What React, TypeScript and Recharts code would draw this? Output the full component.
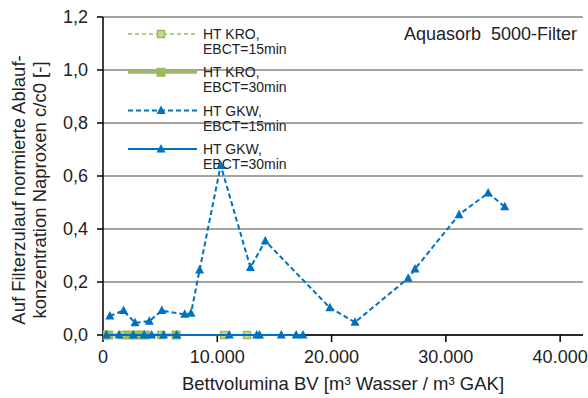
import React from 'react';
import {
  ScatterChart,
  Scatter,
  XAxis,
  YAxis,
  CartesianGrid,
  Customized,
} from 'recharts';

// Bettvolumina (BV) and normalised effluent concentration c/c0 per test series
const kro15BV = [200, 1700, 3300, 5100, 10600, 12600];
const kro15C = [0, 0, 0, 0, 0, 0];

const kro30BV = [0, 500, 2200, 2900, 3700, 6400];
const kro30C = [0, 0, 0, 0, 0, 0];

const gkw15BV = [600, 1800, 2800, 4050, 5150, 7150, 7700, 8450, 10300, 12900, 14200, 19850, 22050, 26700, 27300, 31150, 33700, 35150];
const gkw15C = [0.072, 0.092, 0.046, 0.052, 0.092, 0.078, 0.082, 0.245, 0.64, 0.255, 0.355, 0.103, 0.048, 0.214, 0.249, 0.454, 0.536, 0.484];

const gkw30BV = [300, 1400, 2650, 3600, 4250, 5300, 6450, 11050, 13450, 13700, 15600, 16900, 17500];
const gkw30C = [0, 0, 0, 0, 0, 0, 0, 0, 0, 0, 0, 0, 0];

const xTicks = [0, 10000, 20000, 30000, 40000];
const yTicks = [0, 0.2, 0.4, 0.6, 0.8, 1.0, 1.2];

const seriesLabels = [
  ['HT KRO,', 'EBCT=15min'],
  ['HT KRO,', 'EBCT=30min'],
  ['HT GKW,', 'EBCT=15min'],
  ['HT GKW,', 'EBCT=30min'],
];

const toPoints = (xs: number[], ys: number[]) => xs.map((x, i) => ({ x, y: ys[i] }));

const GREEN = '#9BBB59';
const GREEN_LIGHT = '#C3D69B';
const BLUE = '#0070C0';
const FONT = '"Liberation Sans", Arial, sans-serif';

const SmallSquare = (p: any) => (
  <rect x={p.cx - 3.5} y={p.cy - 3.5} width={7} height={7} fill={GREEN_LIGHT} stroke={GREEN} strokeWidth={1.5} />
);
const BigSquare = (p: any) => (
  <rect x={p.cx - 4.5} y={p.cy - 4.5} width={9} height={9} fill={GREEN} />
);
const Triangle = (p: any) => (
  <polygon
    points={`${p.cx},${p.cy - 5} ${p.cx - 4.5},${p.cy + 3.5} ${p.cx + 4.5},${p.cy + 3.5}`}
    fill={BLUE}
  />
);

const fmtX = (v: number) => (v === 0 ? '0' : v.toLocaleString('de-DE'));
const fmtY = (v: number) => v.toFixed(1).replace('.', ',');

// Legend entries: line sample with marker, two-line caption
const LegendBox = () => {
  const styles = [
    { stroke: GREEN, width: 1.5, dash: '4 3', marker: 'small' },
    { stroke: GREEN, width: 3, dash: undefined, marker: 'big' },
    { stroke: BLUE, width: 2, dash: '5 3', marker: 'tri' },
    { stroke: BLUE, width: 2, dash: undefined, marker: 'tri' },
  ];
  return (
    <g fontFamily={FONT} fontSize={14} fill="#222">
      {styles.map((s, i) => {
        const y = 34 + i * 38.3;
        const cx = 161;
        return (
          <g key={i}>
            <line x1={128} x2={197} y1={y} y2={y} stroke={s.stroke} strokeWidth={s.width} strokeDasharray={s.dash} />
            {s.marker === 'small' && <SmallSquare cx={cx} cy={y} />}
            {s.marker === 'big' && <BigSquare cx={cx} cy={y} />}
            {s.marker === 'tri' && <Triangle cx={cx} cy={y} />}
            <text x={203} y={y + 5}>{seriesLabels[i][0]}</text>
            <text x={203} y={y + 20}>{seriesLabels[i][1]}</text>
          </g>
        );
      })}
    </g>
  );
};

const Titles = () => (
  <g fontFamily={FONT} fill="#222">
    <text x={404} y={40} fontSize={18} style={{ whiteSpace: 'pre' }}>Aquasorb  5000-Filter</text>
    <text x={343} y={390} fontSize={18.5} textAnchor="middle">Bettvolumina BV [m³ Wasser / m³ GAK]</text>
    <text x={25} y={190} fontSize={18.5} textAnchor="middle" transform="rotate(-90 25 190)">
      Auf Filterzulauf normierte Ablauf-
    </text>
    <text x={46} y={190} fontSize={18.5} textAnchor="middle" transform="rotate(-90 46 190)">
      konzentration Naproxen c/c0 [-]
    </text>
  </g>
);

export default function App() {
  return (
    <div style={{ position: 'absolute', left: 0, top: 0, width: 588, height: 398, background: '#fff' }}>
      <ScatterChart width={588} height={398} margin={{ top: 17, right: 5, left: 0, bottom: 0 }}>
        <CartesianGrid vertical={false} stroke="#868686" strokeWidth={1.5} />
        <XAxis
          type="number"
          dataKey="x"
          domain={[0, 42000]}
          ticks={xTicks}
          interval={0}
          allowDataOverflow
          tickFormatter={fmtX}
          height={63}
          axisLine={{ stroke: '#000', strokeWidth: 1.5 }}
          tickLine={{ stroke: '#000', strokeWidth: 1.5 }}
          tickSize={7}
          tickMargin={8}
          tick={{ fill: '#222', fontSize: 18, fontFamily: FONT }}
        />
        <YAxis
          type="number"
          dataKey="y"
          domain={[0, 1.2]}
          ticks={yTicks}
          interval={0}
          tickFormatter={fmtY}
          width={103}
          axisLine={{ stroke: '#000', strokeWidth: 1.5 }}
          tickLine={{ stroke: '#000', strokeWidth: 1.5 }}
          tickSize={6}
          tickMargin={9}
          tick={{ fill: '#222', fontSize: 18, fontFamily: FONT }}
        />
        <Scatter
          name="HT KRO, EBCT=15min"
          data={toPoints(kro15BV, kro15C)}
          shape={SmallSquare}
          line={{ stroke: GREEN, strokeWidth: 1.5, strokeDasharray: '4 3' }}
          lineType="joint"
          isAnimationActive={false}
        />
        <Scatter
          name="HT KRO, EBCT=30min"
          data={toPoints(kro30BV, kro30C)}
          shape={BigSquare}
          line={{ stroke: GREEN, strokeWidth: 3 }}
          lineType="joint"
          isAnimationActive={false}
        />
        <Scatter
          name="HT GKW, EBCT=15min"
          data={toPoints(gkw15BV, gkw15C)}
          shape={Triangle}
          line={{ stroke: BLUE, strokeWidth: 2, strokeDasharray: '5 3' }}
          lineType="joint"
          isAnimationActive={false}
        />
        <Scatter
          name="HT GKW, EBCT=30min"
          data={toPoints(gkw30BV, gkw30C)}
          shape={Triangle}
          line={{ stroke: BLUE, strokeWidth: 2 }}
          lineType="joint"
          isAnimationActive={false}
        />
        <Customized component={LegendBox} />
        <Customized component={Titles} />
      </ScatterChart>
    </div>
  );
}
